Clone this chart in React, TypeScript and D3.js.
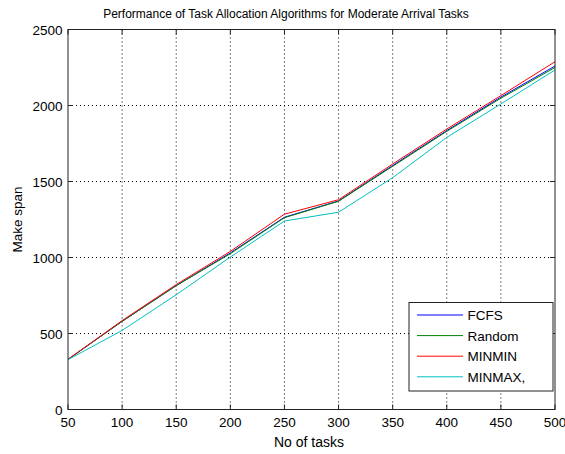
import React from "react";
import * as d3 from "d3";

const tasks = [50, 100, 150, 200, 250, 300, 350, 400, 450, 500];
const fcfs = [330, 580, 815, 1030, 1265, 1372, 1605, 1835, 2055, 2260];
const random = [330, 580, 815, 1025, 1262, 1370, 1600, 1830, 2048, 2250];
const minmin = [330, 585, 822, 1040, 1285, 1380, 1615, 1845, 2065, 2288];
const minmax = [328, 520, 755, 1003, 1240, 1298, 1525, 1790, 2010, 2234];

const seriesNames = ["FCFS", "Random", "MINMIN", "MINMAX,"];
const seriesColors = ["#0000ff", "#008000", "#ff0000", "#00bfbf"];
const xTicks = [50, 100, 150, 200, 250, 300, 350, 400, 450, 500];
const yTicks = [0, 500, 1000, 1500, 2000, 2500];

const W = 565;
const H = 454;
const L = 68, R = 555, T = 29.5, B = 409.5;
const FONT = "'Liberation Sans', Arial, Helvetica, sans-serif";

export default function App() {
  const x = d3.scaleLinear().domain([50, 500]).range([L, R]);
  const y = d3.scaleLinear().domain([0, 2500]).range([B, T]);
  const line = d3
    .line<number>()
    .x((_, i) => x(tasks[i]))
    .y((d) => y(d));
  const allSeries = [fcfs, random, minmin, minmax];

  const legX = 409, legY = 302.5, legW = 144, legH = 88.5;
  const rowY = (i: number) => 315 + i * 20.6;

  return (
    <svg
      width={W}
      height={H}
      style={{ position: "absolute", left: 0, top: 0, background: "#fff" }}
      fontFamily={FONT}
    >
      <rect x={0} y={0} width={W} height={H} fill="#fff" />
      {/* grid */}
      {xTicks.slice(1, -1).map((t) => (
        <line key={"gx" + t} x1={x(t)} x2={x(t)} y1={T} y2={B} stroke="#000" strokeWidth={1} strokeDasharray="1,3" />
      ))}
      {yTicks.slice(1, -1).map((t) => (
        <line key={"gy" + t} x1={L} x2={R} y1={y(t)} y2={y(t)} stroke="#000" strokeWidth={1} strokeDasharray="1,3" />
      ))}
      {/* series */}
      {allSeries.map((s, i) => (
        <path key={i} d={line(s) ?? ""} fill="none" stroke={seriesColors[i]} strokeWidth={1} />
      ))}
      {/* axes box */}
      <rect x={L} y={T} width={R - L} height={B - T} fill="none" stroke="#222" strokeWidth={1} />
      {xTicks.map((t) => (
        <g key={"tx" + t}>
          <line x1={x(t)} x2={x(t)} y1={B} y2={B - 5} stroke="#222" />
          <line x1={x(t)} x2={x(t)} y1={T} y2={T + 5} stroke="#222" />
          <text x={x(t)} y={426.5} fontSize={13.5} textAnchor="middle" fill="#000">
            {t}
          </text>
        </g>
      ))}
      {yTicks.map((t) => (
        <g key={"ty" + t}>
          <line x1={L} x2={L + 5} y1={y(t)} y2={y(t)} stroke="#222" />
          <line x1={R} x2={R - 5} y1={y(t)} y2={y(t)} stroke="#222" />
          <text x={62.5} y={y(t) + 5} fontSize={13.5} textAnchor="end" fill="#000">
            {t}
          </text>
        </g>
      ))}
      {/* labels */}
      <text x={286} y={18} fontSize={12} textAnchor="middle" fill="#000">
        Performance of Task Allocation Algorithms for Moderate Arrival Tasks
      </text>
      <text x={309} y={446.5} fontSize={14} textAnchor="middle" fill="#000">
        No of tasks
      </text>
      <text
        transform={`translate(22,${(T + B) / 2}) rotate(-90)`}
        fontSize={13.5}
        textAnchor="middle"
        fill="#000"
      >
        Make span
      </text>
      {/* legend */}
      <rect x={legX} y={legY} width={legW} height={legH} fill="#fff" stroke="#222" strokeWidth={1} />
      {seriesNames.map((n, i) => (
        <g key={n}>
          <line x1={417} x2={463} y1={rowY(i)} y2={rowY(i)} stroke={seriesColors[i]} strokeWidth={1} />
          <text x={467.5} y={rowY(i) + 5} fontSize={13.5} fill="#000">
            {n}
          </text>
        </g>
      ))}
    </svg>
  );
}
